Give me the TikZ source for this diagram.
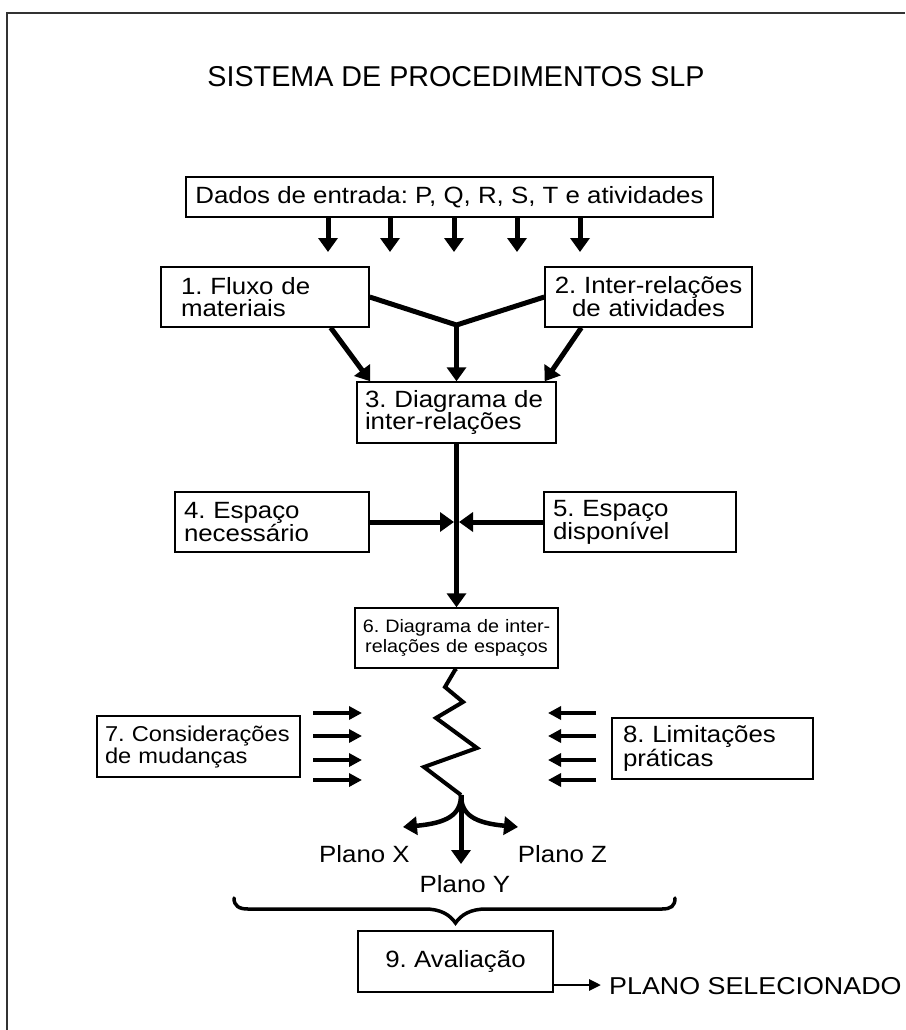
\documentclass[tikz,border=0pt]{standalone}
\usepackage{fontspec}
\setmainfont{Liberation Sans}
\newfontfamily\diagfont[FakeStretch=1.1]{Liberation Sans}
\usetikzlibrary{arrows.meta}
% diagram text: optional baselineskip, then size
\newcommand\dsize[2][22]{\diagfont\fontsize{#2}{#1}\selectfont\frenchspacing\hyphenpenalty=10000\exhyphenpenalty=10000}

\begin{document}
\begin{tikzpicture}[x=1pt,y=-1pt,
  box/.style={draw, line width=1.4pt, inner ysep=0pt, font={\dsize{23.5}}},
  lbox/.style={box, align=left},
  cbox/.style={box, align=center},
  label/.style={inner sep=0pt, font={\dsize{23.5}}},
  heavy/.style={line width=5pt},
  bigarrow/.style={line width=5pt, -{Triangle[length=14pt,width=19pt]}},
  zigzag/.style={line width=4pt, line join=miter},
  curvearrow/.style={line width=4.5pt, -{Triangle[length=14pt,width=18pt]}},
  smallarrow/.style={line width=4pt, -{Triangle[length=13pt,width=13pt]}},
  thinarrow/.style={line width=2.8pt, -{Triangle[length=12pt,width=11pt]}},
  bracepath/.style={line width=3.5pt, line cap=round}
]
\useasboundingbox (0,0) rectangle (905,1030);

% page frame (top and left edges)
\draw[line width=1.8pt, black!80] (905,13) -- (7,13) -- (7,1030);

% title
\node[anchor=base, inner sep=0pt, font=\fontsize{28.7}{30}\selectfont] (title) at (456,87)
  {SISTEMA DE PROCEDIMENTOS SLP};

% input data
\node[cbox, minimum width=527pt, minimum height=40pt] (dados) at (449.5,197)
  {Dados de entrada: P, Q, R, S, T e atividades};
\foreach \i/\xx in {1/328,2/390,3/454,4/517,5/580}{
  \coordinate (in\i) at (\xx,252);
  \draw[bigarrow] (dados.south -| in\i) -- (in\i);
}

% steps 1, 2 and 3
\node[lbox, minimum height=60pt, inner xsep=20pt, text width=168pt] (b1) at (265,297)
  {1. Fluxo de\\materiais};
\node[cbox, minimum height=60pt, inner xsep=4pt, text width=199pt] (b2) at (648.5,297)
  {2. Inter-relações\\de atividades};
\node[lbox, minimum height=61pt, inner xsep=8pt, text width=183pt] (b3) at (456.5,412.5)
  {3. Diagrama de\\inter-relações};

\coordinate (j) at (456.5,325);
\draw[heavy, line join=miter] (b1.east) -- (j) -- (b2.west);
\draw[bigarrow] (j) -- (b3.north);
\draw[bigarrow] ([xshift=-39pt]b1.south east) -- ([xshift=14pt]b3.north west);
\draw[bigarrow] ([xshift=37pt]b2.south west) -- ([xshift=-12pt]b3.north east);

% steps 4, 5 and 6
\node[lbox, minimum height=60pt, inner xsep=9pt, text width=176pt] (b4) at (272,522)
  {4. Espaço\\necessário};
\node[lbox, minimum height=60pt, inner xsep=9pt, text width=174pt] (b5) at (640,522)
  {5. Espaço\\disponível};
\node[cbox, minimum height=60pt, inner xsep=5pt, text width=193pt, font={\dsize[20]{18}}] (b6) at (456.5,638)
  {6. Diagrama de inter-\\relações de espaços};

\draw[bigarrow] (b3.south) -- (b6.north);
\coordinate (cl) at (454,522);
\coordinate (cr) at (459,522);
\draw[bigarrow] (b4.east) -- (cl);
\draw[bigarrow] (b5.west) -- (cr);

% steps 7 and 8 acting on the layout
\node[lbox, minimum height=61pt, inner xsep=8pt, text width=187pt, font={\dsize{21.5}}] (b7) at (198.5,746.5)
  {7. Considerações\\de mudanças};
\node[lbox, minimum height=61pt, inner xsep=11pt, text width=179pt] (b8) at (712.5,748.5)
  {8. Limitações\\práticas};
\foreach \i/\yy in {1/713,2/736,3/760,4/780}{
  \coordinate (ls\i) at (313,\yy);
  \coordinate (le\i) at (362,\yy);
  \coordinate (rs\i) at (596,\yy);
  \coordinate (re\i) at (548,\yy);
  \draw[smallarrow] (ls\i) -- (le\i);
  \draw[smallarrow] (rs\i) -- (re\i);
}

% adjusted layout: zigzag and the three alternative plans
\coordinate (split) at (461,795);
\draw[zigzag] (b6.south) -- (455,670) -- (445,687) -- (463,702) -- (436,718)
  -- (477,748) -- (424,767) -- (split);

\node[label, anchor=base] (px) at (364.5,862) {Plano X};
\node[label, anchor=base] (pz) at (562.5,862) {Plano Z};
\node[label, anchor=base] (py) at (465,892) {Plano Y};

\coordinate (tx) at (403,827);
\coordinate (tz) at (518,827);
\coordinate (ty) at (461,864);
\draw[bigarrow] (split) -- (ty);
\draw[curvearrow] (split) .. controls (461,815) and (447,823) .. (tx);
\draw[curvearrow] (split) .. controls (461,815) and (475,823) .. (tz);

% brace gathering the plans
\draw[bracepath] (234,898) .. controls (234,906) and (239,909) .. (248,909) -- (425,909)
  .. controls (441,909) and (450,915) .. (455.5,923)
  .. controls (461,915) and (470,909) .. (486,909) -- (662,909)
  .. controls (671,909) and (675,906) .. (675,898);

% step 9 and result
\node[cbox, minimum width=195pt, minimum height=61pt] (b9) at (455.5,961.5) {9. Avaliação};
\node[label, anchor=base west, font={\dsize{24.4}}] (sel) at (609,994) {PLANO SELECIONADO};
\draw[thinarrow] (b9.east |- 0,985) -- ([xshift=-8pt]sel.west |- 0,985);

\end{tikzpicture}
\end{document}
